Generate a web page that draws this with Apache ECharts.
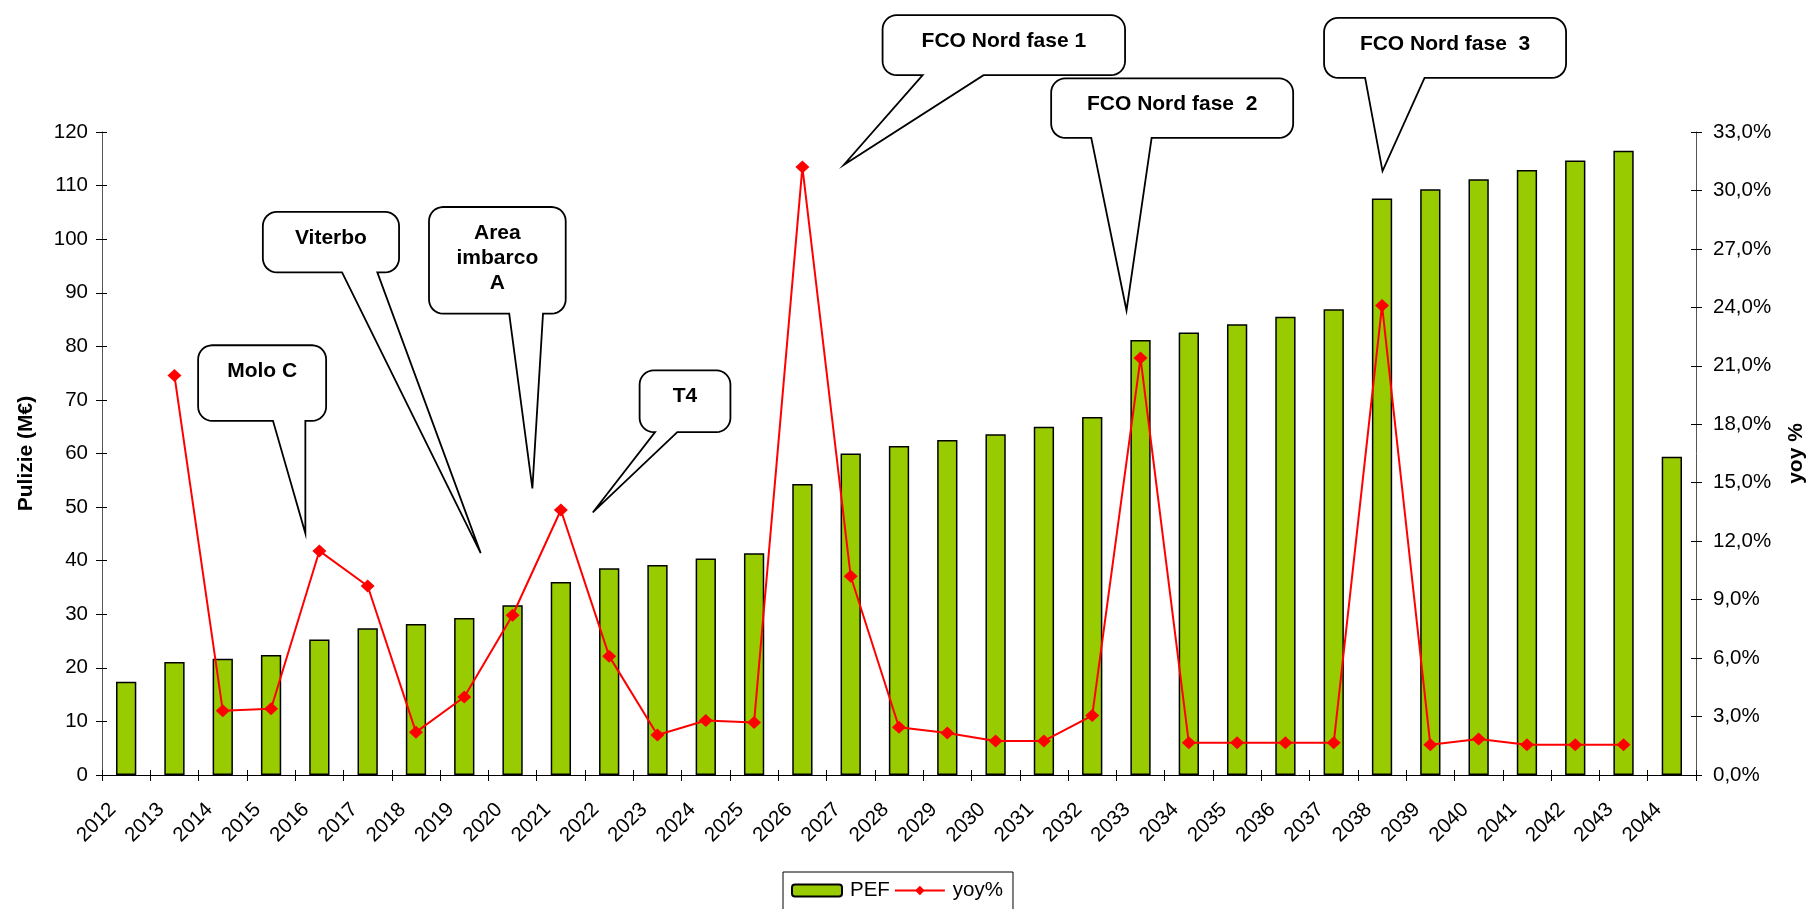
<!DOCTYPE html>
<html><head><meta charset="utf-8">
<script src="https://cdn.jsdelivr.net/npm/echarts@6/dist/echarts.min.js"></script>
<style>html,body{margin:0;padding:0;background:#fff}#c{width:1808px;height:909px}</style>
</head><body><div id="c"></div>
<script>
// ---- data ----
const years = ['2012','2013','2014','2015','2016','2017','2018','2019','2020','2021','2022','2023','2024','2025','2026','2027','2028','2029','2030','2031','2032','2033','2034','2035','2036','2037','2038','2039','2040','2041','2042','2043','2044'];
const pef = [17.4,21.1,21.7,22.4,25.3,27.4,28.2,29.3,31.7,36.0,38.6,39.2,40.4,41.4,54.3,60.0,61.4,62.5,63.6,65.0,66.8,81.2,82.6,84.1,85.5,86.9,107.6,109.3,111.2,112.9,114.7,116.5,59.4];
const yoy = [null,20.5,3.3,3.4,11.5,9.7,2.2,4.0,8.2,13.6,6.1,2.05,2.8,2.7,31.2,10.2,2.45,2.15,1.75,1.75,3.05,21.4,1.65,1.65,1.65,1.65,24.1,1.55,1.85,1.55,1.55,1.55,null];
const seriesNames = ['PEF','yoy%'];
const axisTitles = ['Pulizie (M€)','yoy %'];
const calloutTexts = ['Molo C','Viterbo','Area\nimbarco\nA','T4','FCO Nord fase 1','FCO Nord fase  2','FCO Nord fase  3'];

// ---- annotation layout (category index, left-axis value) ----
const calloutLayout = [
  {box:[1.49,80.2,4.14,66.1],  base:[3.04,3.71],   tip:[3.71,45.1]},
  {box:[2.83,105.1,5.65,93.8], base:[4.47,5.20],   tip:[7.34,41.4]},
  {box:[6.27,106.0,9.10,86.1], base:[7.93,8.63],   tip:[8.41,53.5]},
  {box:[10.63,75.5,12.51,64.0],base:[10.95,11.41], tip:[9.66,49.0]},
  {box:[15.66,141.8,20.68,130.6],base:[16.49,17.75],tip:[14.86,113.9]},
  {box:[19.15,130.0,24.16,118.9],base:[19.98,21.23],tip:[20.71,86.7]},
  {box:[24.80,141.3,29.81,130.1],base:[25.65,26.88],tip:[26.01,112.7]}
];

const FONT = 'Liberation Sans, Arial, sans-serif';
const chart = echarts.init(document.getElementById('c'), null, {renderer:'canvas'});
const tickStyle = {color:'#000', fontSize:20.5, fontFamily:FONT};
const axisLineStyle = {color:'#555', width:1};

chart.setOption({
  animation:false,
  backgroundColor:'#fff',
  grid:{left:102, right:112, top:132, bottom:134, containLabel:false, outerBoundsMode:'none'},
  legend:{
    left:783, top:872, orient:'horizontal',
    padding:[8,10,40,8], itemGap:4, itemWidth:50, itemHeight:12,
    borderColor:'#000', borderWidth:1,
    textStyle:{color:'#000', fontSize:20.5, fontFamily:FONT, padding:[0,0,0,3]},
    data:seriesNames
  },
  xAxis:[
    {type:'category', data:years, position:'bottom',
     axisLine:{lineStyle:{color:'#000', width:1}},
     axisTick:{show:true, length:6, lineStyle:{color:'#000'}},
     axisLabel:{rotate:45, margin:18, padding:[0,19,0,0], interval:0, ...tickStyle}},
    {type:'category', data:years, position:'bottom',
     axisLine:{show:false}, axisLabel:{show:false},
     axisTick:{show:true, inside:true, length:5, lineStyle:{color:'#000'}}}
  ],
  yAxis:[
    {type:'value', position:'left', min:0, max:120, interval:10,
     name:axisTitles[0], nameLocation:'middle', nameRotate:90, nameGap:65,
     nameTextStyle:{fontWeight:'bold', fontSize:21, fontFamily:FONT, color:'#000'},
     axisLine:{show:true, lineStyle:axisLineStyle},
     axisTick:{show:true, length:6, lineStyle:{color:'#000'}},
     axisLabel:{margin:14, ...tickStyle},
     splitLine:{show:false}},
    {type:'value', position:'right', min:0, max:33, interval:3,
     name:axisTitles[1], nameLocation:'middle', nameRotate:90, nameGap:90,
     nameTextStyle:{fontWeight:'bold', fontSize:21, fontFamily:FONT, color:'#000'},
     axisLine:{show:true, lineStyle:axisLineStyle},
     axisTick:{show:true, length:6, lineStyle:{color:'#000'}},
     axisLabel:{margin:17, ...tickStyle, formatter:v=>v.toFixed(1).replace('.',',')+'%'},
     splitLine:{show:false}},
    {type:'value', position:'left', min:0, max:120, interval:10,
     axisLine:{show:false}, axisLabel:{show:false}, splitLine:{show:false},
     axisTick:{show:true, inside:true, length:5, lineStyle:{color:'#000'}}},
    {type:'value', position:'right', min:0, max:33, interval:3,
     axisLine:{show:false}, axisLabel:{show:false}, splitLine:{show:false},
     axisTick:{show:true, inside:true, length:5, lineStyle:{color:'#000'}}}
  ],
  series:[
    {name:seriesNames[0], type:'bar', data:pef, xAxisIndex:0, yAxisIndex:0,
     barWidth:'42%',
     itemStyle:{color:'#99CC00', borderColor:'#000', borderWidth:1.5}},
    {name:seriesNames[1], type:'line', data:yoy, xAxisIndex:0, yAxisIndex:1,
     symbol:'diamond', symbolSize:[14,13], connectNulls:false,
     lineStyle:{color:'#FF0000', width:2},
     itemStyle:{color:'#FF0000'}}
  ]
});

// ---- callouts ----
function arc(cx, cy, r, a0, a1, out){
  const n = 8;
  for (let i = 0; i <= n; i++) {
    const a = a0 + (a1 - a0) * i / n;
    out.push([cx + r * Math.cos(a), cy + r * Math.sin(a)]);
  }
}
function drawCallouts(){
  const x0 = chart.convertToPixel({xAxisIndex:0}, 0);
  const x1 = chart.convertToPixel({xAxisIndex:0}, 1);
  const px = i => x0 + i*(x1-x0);
  const py = v => chart.convertToPixel({yAxisIndex:0}, v);
  const els = [];
  const P = Math.PI;
  calloutLayout.forEach((c, k) => {
    const L = px(c.box[0]), R = px(c.box[2]), T = py(c.box[1]), B = py(c.box[3]);
    const a = px(c.base[0]), b = px(c.base[1]);
    const tx = px(c.tip[0]), ty = py(c.tip[1]);
    const r = 14;
    const pts = [];
    arc(R - r, T + r, r, -P/2, 0, pts);
    arc(R - r, B - r, r, 0, P/2, pts);
    pts.push([b, B], [tx, ty], [a, B]);
    arc(L + r, B - r, r, P/2, P, pts);
    arc(L + r, T + r, r, P, 1.5*P, pts);
    els.push({type:'polygon', z:100, shape:{points:pts},
      style:{fill:'#fff', stroke:'#000', lineWidth:1.8, lineJoin:'miter'}});
    els.push({type:'text', z:101, x:(L+R)/2, y:T+13.5,
      style:{text:calloutTexts[k], fill:'#000', font:'bold 21px '+FONT,
             align:'center', verticalAlign:'top', lineHeight:25}});
  });
  chart.setOption({graphic:els});
}
drawCallouts();
</script></body></html>
